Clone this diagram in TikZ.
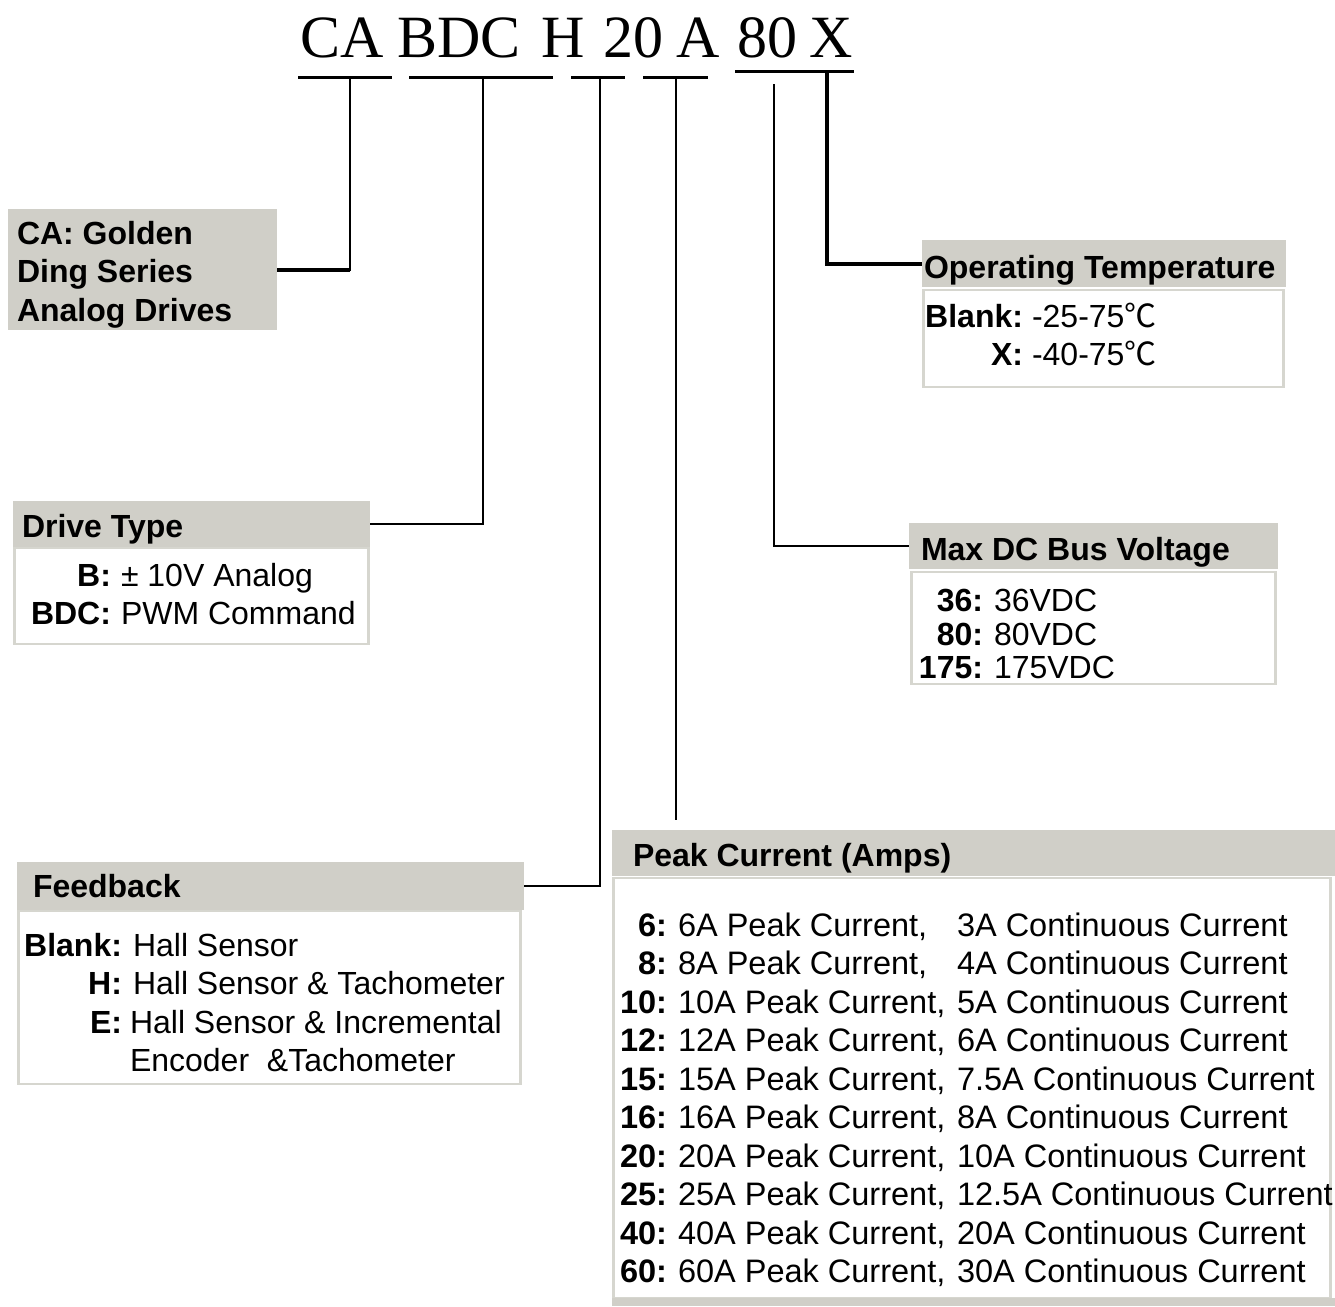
\documentclass[tikz,border=0pt]{standalone}
\usepackage{fontspec}
\setmainfont{Liberation Sans}
\newfontfamily\titlefont{Liberation Serif}
\newfontfamily\cjk{Noto Sans CJK SC}
\usepackage{xcolor}
\usepackage{tikz}
\usetikzlibrary{positioning}
\definecolor{boxgray}{RGB}{208,207,200}
\definecolor{edgegray}{RGB}{214,214,207}
\newcommand{\degc}{{\cjk ℃}}

\begin{document}
\begin{tikzpicture}[x=1pt, y=-1pt,
  every node/.style={font=\fontsize{32}{38}\selectfont, inner sep=0pt, outer sep=0pt},
  code/.style={font=\titlefont\fontsize{60}{60}\selectfont, anchor=base west},
  hdr/.style={fill=boxgray, anchor=north west},
  body/.style={draw=edgegray, line width=2.5pt, fill=white, anchor=north west},
  ttl/.style={anchor=base west, font=\fontsize{32}{38}\selectfont\bfseries},
  lbl/.style={anchor=base east, font=\fontsize{32}{38}\selectfont\bfseries},
  val/.style={anchor=base west},
  pklbl/.style={lbl, font=\fontsize{32.5}{39}\selectfont\bfseries},
  pkval/.style={val, font=\fontsize{32.5}{39}\selectfont},
  uline/.style={line width=3pt},
  conn/.style={line width=2pt},
  boldconn/.style={line width=4pt}
]
\fill[white] (0,0) rectangle (1335,1306);
\useasboundingbox (0,0) rectangle (1335,1306);
\clip (0,0) rectangle (1335,1306);

% part number
\node[code] (tCA) at (300,57) {CA};
\node[code] (tBDC) at (397,57) {BDC};
\node[code] (tH) at (541,57) {H};
\node[code] (t20) at (603,57) {20};
\node[code] (tA) at (676,57) {A};
\node[code] (t80) at (737,57) {80};
\node[code] (tX) at (809,57) {X};
\draw[uline] (298,77) -- (392,77);
\draw[uline] (409,77) -- (553,77);
\draw[uline] (571,77) -- (625,77);
\draw[uline] (643,77) -- (708,77);
\draw[uline] (735,71) -- (854,71);
\coordinate (uCA) at (350,79);
\coordinate (uBDC) at (483,79);
\coordinate (uH) at (600,79);
\coordinate (u20) at (676,79);
\coordinate (u80) at (774,84);
\coordinate (uX) at (827,72);

% boxes
\node[hdr, minimum width=269, minimum height=121] (caBox) at (8,209) {};
\node[hdr, minimum width=357, minimum height=46] (drvH) at (13,501) {};
\node[body, minimum width=354, minimum height=96] (drvB) at (14.5,548) {};
\node[hdr, minimum width=364, minimum height=47] (tmpH) at (922,240) {};
\node[body, minimum width=360, minimum height=97] (tmpB) at (923.5,290) {};
\node[hdr, minimum width=369, minimum height=46] (busH) at (909,523) {};
\node[body, minimum width=364, minimum height=112] (busB) at (911.5,572) {};
\node[hdr, minimum width=507, minimum height=48] (fbH) at (17,862) {};
\node[body, minimum width=502, minimum height=173] (fbB) at (18.5,911) {};
\node[hdr, minimum width=723, minimum height=46] (pkH) at (612,830) {};
\node[body, minimum width=717, minimum height=420] (pkB) at (613.5,878) {};
\fill[boxgray] (612,1298) rectangle (1335,1306);

% connectors
\draw[conn] (uCA) |- (caBox.east);
\draw[boldconn] (uCA |- caBox.east) -- (caBox.east);
\draw[conn] (uBDC) |- (drvH.east);
\draw[conn] (uH) |- (fbH.east);
\draw[conn, shorten >=10pt] (u20) -- (u20 |- pkH.north);
\draw[conn] (u80) |- (busH.west);
\draw[boldconn] (uX) |- (tmpH.west);

% series
\foreach \t [count=\i] in {CA: Golden, Ding Series, Analog Drives}
  \node[ttl] (ca\i) at (17,{205.5+38.5*\i}) {\t};

% drive type
\node[ttl] (drvT) at (22,537) {Drive Type};
\node[lbl] (drvL1) at (111,586) {B:};
\node[val] (drvV1) at (121,586) {± 10V Analog};
\node[lbl] (drvL2) at (111,624) {BDC:};
\node[val] (drvV2) at (121,624) {PWM Command};

% temperature
\node[ttl] (tmpT) at (924,278) {Operating Temperature};
\node[lbl] (tmpL1) at (1023,327) {Blank:};
\node[val] (tmpV1) at (1032,327) {-25-75\degc};
\node[lbl] (tmpL2) at (1023,365) {X:};
\node[val] (tmpV2) at (1032,365) {-40-75\degc};

% bus voltage
\node[ttl] (busT) at (921,560) {Max DC Bus Voltage};
\foreach \v/\y [count=\i] in {36/611, 80/645, 175/678} {
  \node[lbl] (busL\i) at (983,\y) {\v:};
  \node[val] (busV\i) at (994,\y) {\v VDC};
}

% feedback
\node[ttl] (fbT) at (33,897) {Feedback};
\node[lbl] (fbL1) at (122,956) {Blank:};
\node[val] (fbV1) at (133,956) {Hall Sensor};
\node[lbl] (fbL2) at (122,994) {H:};
\node[val] (fbV2) at (133,994) {Hall Sensor \& Tachometer};
\node[lbl] (fbL3) at (122,1033) {E:};
\node[val] (fbV3) at (130,1033) {Hall Sensor \& Incremental};
\node[val] (fbV4) at (130,1071) {Encoder\ \ \&Tachometer};

% peak current
\node[ttl] (pkT) at (633,866) {Peak Current (Amps)};
\foreach \k/\c [count=\i] in {6/3, 8/4, 10/5, 12/6, 15/7.5, 16/8, 20/10, 25/12.5, 40/20, 60/30} {
  \node[pklbl] (pkL\i) at (667,{897.5+38.5*\i}) {\k:};
  \node[pkval] (pkP\i) at (678,{897.5+38.5*\i}) {\k A Peak Current,};
  \node[pkval] (pkC\i) at (957,{897.5+38.5*\i}) {\c A Continuous Current};
}
\end{tikzpicture}
\end{document}
